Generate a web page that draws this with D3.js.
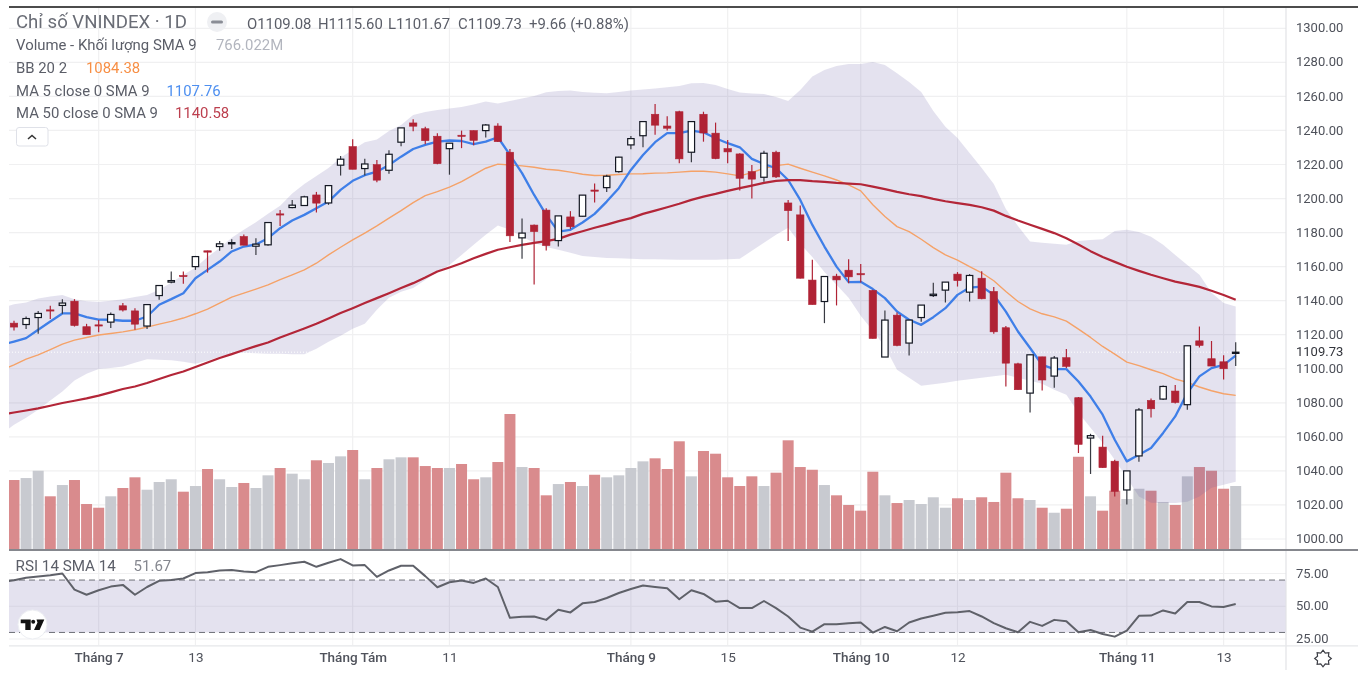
<!DOCTYPE html>
<html><head><meta charset="utf-8">
<script src="https://cdn.jsdelivr.net/npm/d3@7"></script>
<style>
html,body{margin:0;padding:0;background:#fff;overflow:hidden}
svg{display:block;filter:blur(0.35px)}
text{font-family:Roboto,sans-serif}
</style></head><body><svg id="c" width="1358" height="673"></svg>
<script>
const opens=[1126.8,1126,1130.1,1134.6,1137.2,1139.7,1124.7,1125.8,1127.4,1137,1134,1125.1,1143,1150.9,1154.8,1160,1169.3,1171.8,1173.4,1177.7,1172,1172.8,1191,1194.7,1195.9,1202.1,1197.4,1219.6,1230.5,1217.6,1219.9,1216.6,1233.1,1244.4,1241,1236.6,1229.3,1237.2,1239.9,1239.9,1242.6,1227.2,1176.9,1184.4,1193.2,1175.3,1189.2,1189.6,1205,1206.4,1215.8,1231.5,1236.9,1249.5,1242.6,1251,1227.2,1249.5,1238.4,1229.3,1226.2,1215.8,1212.5,1227.2,1197.4,1190.4,1152.1,1139.5,1154.4,1157.9,1155.9,1146,1106.9,1131.5,1115.1,1130.1,1143,1146.2,1155.6,1145,1153.2,1145.4,1124.1,1102.9,1085.7,1107,1095.7,1106.5,1083,1059.3,1054,1045.7,1028.8,1048.8,1081.4,1082.2,1086.9,1078.9,1116.4,1105.9,1104.1,1109.08];
const closes=[1124.5,1129.5,1132.5,1134.2,1138.6,1125.4,1120,1125.4,1131.9,1134.5,1126.2,1137.7,1148.9,1151.8,1154.2,1165.9,1168.5,1173.4,1174.1,1172.6,1173.2,1185.9,1190.6,1196.1,1201,1197.3,1207.6,1223.1,1217.2,1220.3,1210.8,1226,1241.5,1242.5,1234,1220.5,1232.5,1236.8,1234.2,1243.2,1233.4,1178.1,1179.7,1180.6,1172.4,1189.8,1183.4,1202,1204.7,1213.1,1224.3,1235.2,1245.2,1243.1,1241.3,1223.3,1245.2,1238.5,1223.4,1227.4,1211.9,1211.4,1226.6,1212.7,1192.9,1153.2,1137.7,1154.2,1152.2,1154,1155.2,1117.8,1128.6,1113.7,1128.6,1137.4,1143.8,1150.9,1151.8,1154.8,1141.1,1121.7,1103.3,1087.7,1108.2,1093.4,1106.3,1101.4,1055.6,1060.7,1041.9,1028,1040,1075.8,1076.5,1089.6,1080.2,1113.5,1113.7,1101.6,1100,1109.73];
const highs=[1128.2,1130.7,1134,1137,1140.9,1140.9,1126.4,1128.6,1133,1138.6,1135.6,1138,1148.9,1157.1,1157.1,1166.3,1169.4,1175.1,1176.1,1178.8,1176.7,1185.9,1193.3,1199.2,1201.6,1203.9,1207.8,1225,1234.8,1223.3,1222.7,1228.4,1241.5,1246.6,1242.2,1238.4,1232.5,1239.9,1239.9,1243.8,1244.2,1229.1,1188.2,1184.7,1194.3,1189.8,1192.6,1202,1208.8,1213.9,1224.6,1236.8,1245.2,1255.6,1248.3,1251.6,1245.2,1251,1244.6,1234.4,1226.6,1219.7,1228.1,1228.1,1199.2,1195.9,1164,1154.2,1155.8,1164.4,1161.6,1146.4,1134.2,1133,1128.8,1137.4,1150.5,1150.9,1156.8,1155.6,1157.3,1148,1125.1,1103.5,1108.2,1107,1107.5,1111.6,1083.4,1061.8,1060.7,1046.6,1040,1076.9,1082.6,1090.2,1090.4,1113.5,1124.8,1116.3,1108,1115.6];
const lows=[1122.5,1123.3,1120.5,1129.2,1132.3,1124.8,1120,1121.5,1123.9,1133.6,1122.9,1123.3,1140.5,1150.3,1149.9,1158.1,1156.5,1169.3,1170.4,1172.6,1166.9,1172.2,1183.9,1194.3,1195.7,1191.8,1196.3,1213.5,1217.2,1213.5,1209.6,1214.6,1230.7,1239.5,1231.9,1220.2,1214,1229.6,1231.3,1235.8,1233.2,1174.5,1164.7,1149.5,1169.4,1171.8,1182,1189.4,1197.6,1203.9,1215.2,1229,1230.1,1237.4,1239.9,1220.7,1221.3,1233.4,1223.1,1220.7,1204.7,1200,1209.9,1212.1,1175.1,1153,1137.7,1126.8,1137.2,1150.3,1150.7,1117.8,1106.9,1113.3,1107.8,1127.6,1142.1,1138.9,1148.3,1139.5,1140.9,1120.5,1089.6,1087.7,1074.3,1087.3,1088.8,1100.4,1050.5,1038.2,1041.9,1025,1020.2,1045.4,1071.4,1081.6,1079.6,1075.9,1112.5,1101.6,1093.7,1101.67];
const volumes=[839,863,952,641,778,839,547,502,641,742,872,721,815,848,697,766,973,848,754,803,742,896,985,916,848,1079,1046,1127,1204,848,985,1091,1115,1115,1009,985,985,1034,848,872,1058,1642,997,985,653,790,815,766,903,872,896,985,1066,1103,973,1310,884,1192,1159,872,766,884,766,928,1322,997,964,778,653,535,466,940,653,559,596,547,629,502,617,596,629,572,928,617,596,502,441,490,1122,641,466,709,608,733,709,572,535,884,997,952,733,766.022];
// Line series: the first value belongs to the bar just left of the visible window.
const bbUpper=[1135.6,1137.9,1138.9,1141.3,1142.4,1143.4,1140.9,1139.7,1139.2,1139.9,1140.9,1142.1,1143.4,1146.4,1150.5,1155.2,1159.3,1165.7,1171,1176.9,1181.6,1186,1191,1195.7,1203,1208.6,1213.3,1218,1223.9,1228.6,1233,1234.7,1239.7,1243.2,1249.1,1250.9,1252,1252.9,1253.8,1255.3,1257,1255.8,1257.3,1258.8,1260.3,1262.4,1263.2,1263.5,1262.6,1262.2,1261.8,1262.6,1263.4,1264.1,1264.6,1265.4,1266.1,1267.7,1267.9,1266.7,1264.4,1262.3,1261.7,1261.4,1259.7,1257.3,1263.8,1271.7,1275.5,1277.9,1279,1279,1280.2,1278.4,1273.6,1268.5,1262.6,1251.4,1242.1,1235.6,1226.8,1218,1208.6,1193.9,1183.9,1174.7,1174,1173.4,1172.8,1175.1,1175.7,1176.1,1181,1181.6,1180.4,1177.5,1172.8,1166.9,1161,1155.2,1144.6,1138.7,1136.6];
const bbBasis=[1099.4,1102.3,1105.7,1108.2,1111.2,1114.5,1116.8,1118.4,1119.8,1120.7,1121.7,1122.9,1124.5,1126.2,1127.8,1129.8,1132.3,1135,1138.6,1142.1,1144.4,1146.8,1149.3,1152.4,1155.2,1158.1,1162,1166.9,1171.4,1175.7,1179.7,1183.9,1188.5,1192.9,1197.6,1201.7,1204.1,1206.7,1209.9,1213.9,1217.8,1220.2,1219.7,1219.2,1218.4,1217.2,1216.6,1215.5,1214.3,1213.5,1213.7,1214.1,1214.5,1214.6,1214.9,1215.1,1215.5,1216,1216,1215.5,1214.5,1213.3,1215.2,1217.8,1219.3,1220.2,1217.8,1215.5,1213.3,1210.9,1208,1204.5,1196.3,1189.4,1183.5,1180.6,1176.1,1171.2,1166.9,1163.8,1160,1156.4,1151.7,1145.4,1139.5,1135.2,1132.3,1130.5,1128,1123.3,1118.4,1113.1,1108.6,1103.9,1101.8,1099.4,1097.1,1094,1092,1089.3,1087.1,1085.3,1084.38];
const bbLower=[1061.8,1067.1,1071.2,1075.9,1081.4,1086.7,1093.1,1097.1,1099.8,1100.4,1101.4,1103.5,1105.6,1105.3,1105,1104.1,1102.9,1104.7,1107,1108.8,1109.4,1109.1,1108.8,1108.8,1108.5,1108.5,1111.7,1115.8,1119.4,1123.5,1126.4,1134.6,1141.7,1145.2,1147.5,1152.2,1156.9,1161,1166.9,1172.8,1178.7,1184.2,1181.6,1177.5,1174,1171.6,1169.9,1168.1,1166.3,1165.7,1165.1,1164.9,1164.6,1164.4,1164.3,1164.2,1164,1164,1164,1164,1164.3,1164.6,1169.3,1174,1178.7,1182.8,1173.4,1165.7,1156.9,1149.3,1141.7,1131.1,1122.3,1112.9,1099.4,1094.7,1090,1090.9,1091.8,1093,1093.8,1094.7,1095.6,1096.5,1094.7,1093,1091.2,1087.7,1084.7,1074.2,1065.4,1056.6,1046.6,1036,1024.9,1021.3,1021.1,1021.1,1021.9,1024.9,1030.1,1031.9,1033.7];
const ma5=[1114.1,1116,1118,1122.9,1127.8,1132.5,1132.5,1130.3,1128.9,1128.8,1128.2,1128.2,1130.7,1137.6,1140.9,1144.4,1153.2,1158.1,1163,1168.9,1171.8,1173,1176.7,1182.6,1187.1,1190.4,1194.3,1198.2,1205.1,1210.4,1213.7,1215.8,1219.7,1224.6,1229.1,1231.5,1233.4,1234.1,1233.8,1231.9,1233.4,1236,1225.6,1214.9,1202.1,1190.4,1180.6,1181.6,1185.9,1191,1198.2,1206.1,1216.8,1225.6,1233.1,1238.4,1238.4,1239.9,1238.9,1235.4,1232.5,1230.1,1223.3,1220.3,1217.8,1210.9,1199.2,1184.5,1171.8,1160,1150.9,1151.1,1146.8,1141.5,1133.6,1128.8,1125.8,1130.3,1135.6,1143.4,1147.7,1148.3,1143.4,1133.6,1121.9,1112.2,1102.3,1099.8,1099.8,1092.5,1083.7,1073,1058.3,1045.6,1049.5,1053.5,1062.3,1072,1085.7,1095.5,1100.4,1102.3,1107.76];
const ma50=[1073,1074.3,1075.5,1076.7,1078.3,1079.9,1081.2,1082.6,1084.2,1086.1,1088.1,1089.6,1091.6,1094,1096.3,1098.4,1101,1103.7,1106.3,1108.6,1111,1113.3,1115.4,1118.4,1121,1123.7,1126.4,1129.5,1132.7,1135.6,1138.6,1141.5,1144.4,1147.4,1150.3,1153.6,1157.1,1159.5,1162,1164.9,1167.5,1169.9,1171.4,1172.8,1174,1175,1176.3,1178.8,1180.8,1182.8,1184.7,1186.7,1188.5,1191,1192.9,1194.9,1196.9,1199.2,1201.1,1202.7,1204.5,1206.1,1207.6,1209.2,1210.4,1210.8,1210.8,1210.2,1209.8,1209.2,1208.8,1208.4,1207,1205.5,1203.9,1202.5,1201.4,1199.8,1198.4,1197.3,1196.3,1194.9,1192.9,1189.8,1187.1,1184.6,1182.2,1179.7,1176.7,1173,1169.1,1165.7,1162.8,1159.9,1157.5,1155.2,1153.2,1151.2,1149.7,1148.1,1145.8,1143.3,1140.58];
const rsi=[68.5,69.9,71.7,72.7,73.7,75,62.7,58.8,62.2,65,66.3,58.8,64.7,69.4,70.1,71.2,75.3,76,77.3,77.6,76.5,76,80.1,81.4,82.9,84,80.1,83.2,86,81.2,81.4,72.4,77.3,80.9,80.9,73,64.5,68.3,69.6,67.8,71.2,64.7,41.2,41.9,42.2,39.6,47.3,45.3,52.2,53.2,56.3,60.1,63.2,65.8,64.7,63.7,55.3,62.2,59.4,53.5,54.2,48.6,48.6,54,48.6,42.2,33.7,30.6,36.3,36.3,37.1,37.6,29.9,34.2,30.9,37.6,40.6,42.7,45,45.5,46.3,42.2,37.1,33.2,30.1,38.1,35,39.6,38.6,30.1,31.9,28.8,26.8,31.4,42.7,42.9,46.8,44.5,53.2,53.2,49.9,49.4,51.67];
const priceTicks=d3.range(1000,1301,20);
const rsiTicks=[25,50,75];
const timeTickIndex=[7,15,28,36,51,59,70,78,92,100];
const timeTickLabels=["Tháng 7","13","Tháng Tám","11","Tháng 9","15","Tháng 10","12","Tháng 11","13"];
const ohlcLabels=["O1109.08","H1115.60","L1101.67","C1109.73","+9.66 (+0.88%)"];
const ohlcX=[247,318,388,458,529];
const legendLines=[["Volume - Khối lượng SMA 9","766.022M","#b2b5be",216],["BB 20 2","1084.38","#f78f45",86],["MA 5 close 0 SMA 9","1107.76","#4d8ff0",166.5],["MA 50 close 0 SMA 9","1140.58","#bc3f4e",175]];

const svg=d3.select("#c");
const L=9,R=1286,W=1358;
const x=d3.scaleLinear().domain([0,101]).range([14,1235.7]);
const y=d3.scaleLinear().domain([1000,1300]).range([539,28.3]);
const yVol=d3.scaleLinear().domain([0,1642]).range([549,414]);
const yRsi=d3.scaleLinear().domain([25,75]).range([639,573.5]);
const defs=svg.append("defs");
defs.append("clipPath").attr("id","top").append("rect").attr("x",L).attr("y",8).attr("width",R-L).attr("height",541);
defs.append("clipPath").attr("id","bot").append("rect").attr("x",L).attr("y",551).attr("width",R-L).attr("height",95);

const GRID="#f0f0f1",RED="#b02335",UP="#131722";
const chart=svg.append("g");
// grids
const grid=chart.append("g").attr("stroke",GRID).attr("stroke-width",1.2);
priceTicks.forEach(t=>grid.append("line").attr("x1",L).attr("x2",R).attr("y1",y(t)).attr("y2",y(t)));
rsiTicks.forEach(t=>grid.append("line").attr("x1",L).attr("x2",R).attr("y1",yRsi(t)).attr("y2",yRsi(t)));
timeTickIndex.forEach(i=>grid.append("line").attr("x1",x(i)).attr("x2",x(i)).attr("y1",8).attr("y2",549));
timeTickIndex.forEach(i=>grid.append("line").attr("x1",x(i)).attr("x2",x(i)).attr("y1",551).attr("y2",645));

const pricePane=chart.append("g").attr("clip-path","url(#top)");
// volume
const barW=x(1)-x(0)-1.1;
pricePane.append("g").selectAll("rect").data(volumes).join("rect")
 .attr("x",(d,i)=>x(i)-barW/2).attr("width",barW)
 .attr("y",d=>yVol(d)).attr("height",d=>549-yVol(d))
 .attr("fill",(d,i)=>closes[i]<opens[i]?"#d98b8d":"#c8cad0");
// Bollinger band
const shifted=i=>x(i-1);
const bandArea=d3.area().x((d,i)=>shifted(i)).y0((d,i)=>y(bbLower[i])).y1(d=>y(d));
pricePane.append("path").datum(bbUpper).attr("d",bandArea).attr("fill","rgb(103,97,168)").attr("fill-opacity",0.18);
// last price dotted line
pricePane.append("line").attr("x1",L).attr("x2",R).attr("y1",y(1109.73)).attr("y2",y(1109.73))
 .attr("stroke","#fff").attr("stroke-dasharray","1,2").attr("stroke-width",1);
const lineGen=d3.line().x((d,i)=>shifted(i)).y(d=>y(d));
[[bbBasis,"#f5a268",1.4],[ma5,"#3f7fe8",2.3],[ma50,"#b32638",2.2]].forEach(([s,c,w])=>
 pricePane.append("path").datum(s).attr("d",lineGen).attr("fill","none").attr("stroke",c).attr("stroke-width",w).attr("stroke-linejoin","round"));
// candles
const bodyW=7.4;
const cd=pricePane.append("g").selectAll("g").data(opens).join("g");
cd.append("line").attr("x1",(d,i)=>x(i)).attr("x2",(d,i)=>x(i))
 .attr("y1",(d,i)=>y(highs[i])).attr("y2",(d,i)=>y(lows[i]))
 .attr("stroke",(d,i)=>closes[i]<opens[i]?RED:"#383a42").attr("stroke-width",1.2);
cd.append("rect")
 .attr("x",(d,i)=>x(i)-bodyW/2+(closes[i]<opens[i]?0:0.5)).attr("width",(d,i)=>closes[i]<opens[i]?bodyW:bodyW-1)
 .attr("y",(d,i)=>Math.min(y(opens[i]),y(closes[i]))).attr("height",(d,i)=>Math.max(1.2,Math.abs(y(opens[i])-y(closes[i]))))
 .attr("fill",(d,i)=>closes[i]<opens[i]?RED:"#fff")
 .attr("stroke",(d,i)=>closes[i]<opens[i]?RED:UP).attr("stroke-width",(d,i)=>closes[i]<opens[i]?0.6:1.2);

// RSI pane
const rsiPane=chart.append("g").attr("clip-path","url(#bot)");
rsiPane.append("rect").attr("x",L).attr("width",R-L).attr("y",yRsi(70)).attr("height",yRsi(30)-yRsi(70)).attr("fill","rgb(103,97,168)").attr("fill-opacity",0.18);
[70,30].forEach(t=>rsiPane.append("line").attr("x1",L).attr("x2",R).attr("y1",yRsi(t)).attr("y2",yRsi(t)).attr("stroke","#6d6f78").attr("stroke-dasharray","6,4").attr("stroke-width",1));
const rsiLine=d3.line().x((d,i)=>shifted(i)).y(d=>yRsi(d));
rsiPane.append("path").datum(rsi).attr("d",rsiLine).attr("fill","none").attr("stroke","#5f6169").attr("stroke-width",2).attr("stroke-linejoin","round");

// frame lines
const frameG=svg.append("g");
frameG.append("line").attr("x1",L).attr("x2",W).attr("y1",7).attr("y2",7).attr("stroke","#111").attr("stroke-width",1.3);
frameG.append("line").attr("x1",R).attr("x2",R).attr("y1",8).attr("y2",670).attr("stroke","#e2e3e6").attr("stroke-width",1.2);
frameG.append("line").attr("x1",L).attr("x2",W).attr("y1",645.8).attr("y2",645.8).attr("stroke","#e6e7ea").attr("stroke-width",1.2);
frameG.append("line").attr("x1",L).attr("x2",W).attr("y1",550).attr("y2",550).attr("stroke","#85878d").attr("stroke-width",1.8);

// axes
const TXT="#4f525b";
const axP=svg.append("g").attr("transform",`translate(${R},0)`).call(d3.axisRight(y).tickValues(priceTicks).tickSize(0).tickPadding(10).tickFormat(d3.format(".2f")));
axP.select(".domain").remove();
axP.selectAll("text").attr("fill",TXT).attr("font-size",13).attr("font-family","Roboto").attr("dy","0.28em");
const axR=svg.append("g").attr("transform",`translate(${R},0)`).call(d3.axisRight(yRsi).tickValues(rsiTicks).tickSize(0).tickPadding(10).tickFormat(d3.format(".2f")));
axR.select(".domain").remove();
axR.selectAll("text").attr("fill",TXT).attr("font-size",13).attr("font-family","Roboto").attr("dy","0.28em");
const tickLabel=new Map(timeTickIndex.map((v,i)=>[v,timeTickLabels[i]]));
const axT=svg.append("g").attr("transform","translate(0,646)").call(d3.axisBottom(x).tickValues(timeTickIndex).tickSize(0).tickPadding(6).tickFormat(d=>tickLabel.get(d)));
axT.select(".domain").remove();
axT.selectAll("text").attr("fill",TXT).attr("font-size",13.5).attr("font-family","Roboto")
 .attr("font-weight",d=>/Tháng/.test(tickLabel.get(d))?500:400);

// last price tag
svg.append("rect").attr("x",R+1).attr("y",345).attr("width",W-R-1).attr("height",17).attr("fill","#fff");
svg.append("text").attr("x",1296).attr("y",y(1109.73)).attr("dy","0.3em").attr("font-size",13).attr("fill","#33353c").text("1109.73");

// legend
const LEG="#5b5e68",LF=14.9;
svg.append("text").attr("x",16).attr("y",28).attr("font-size",18.6).attr("fill","#6a6d76").text("Chỉ số VNINDEX · 1D");
svg.append("circle").attr("cx",217).attr("cy",22).attr("r",10).attr("fill","#eff0f3");
svg.append("rect").attr("x",211).attr("y",20.5).attr("width",12).attr("height",3).attr("rx",1.5).attr("fill","#8a8d96");
ohlcLabels.forEach((t,i)=>svg.append("text").attr("x",ohlcX[i]).attr("y",28.5).attr("font-size",LF).attr("fill",LEG).text(t));
legendLines.forEach(([label,val,col,vx],i)=>{
 const ty=50.2+i*22.7;
 svg.append("text").attr("x",16).attr("y",ty).attr("font-size",LF).attr("fill",LEG).text(label);
 svg.append("text").attr("x",vx).attr("y",ty).attr("font-size",LF).attr("fill",col).text(val);
});
svg.append("rect").attr("x",16.5).attr("y",127.5).attr("width",31.5).attr("height",18.5).attr("rx",2.5).attr("fill","#fff").attr("stroke","#dfe1e8");
svg.append("path").attr("d","M28 139 L32 135.5 L36 139").attr("fill","none").attr("stroke","#333").attr("stroke-width",1.5);
svg.append("text").attr("x",15.6).attr("y",570.5).attr("font-size",15.2).attr("fill",LEG).text("RSI 14 SMA 14");
svg.append("text").attr("x",133.6).attr("y",570.5).attr("font-size",15).attr("fill","#85878f").text("51.67");

// logo
svg.append("circle").attr("cx",32.5).attr("cy",624.5).attr("r",14.5).attr("fill","#fff").attr("stroke","#eceef2");
svg.append("path").attr("d","M20.7 619.5 H30.7 V630 H25.3 V623.2 H20.7 Z M36.5 619.5 H44.3 L39.6 630 H34 L37.5 622.5 Z").attr("fill","#111");
svg.append("circle").attr("cx",33.2).attr("cy",621.8).attr("r",2).attr("fill","#111");

// settings icon
const pts=d3.range(16).map(k=>{const r=k%2?5.9:8.3,a=k*Math.PI/8;return [1323+r*Math.sin(a),658.5-r*Math.cos(a)];});
svg.append("path").attr("d",d3.line().curve(d3.curveLinearClosed)(pts)).attr("fill","none").attr("stroke","#3c3e45").attr("stroke-width",1.2);
</script></body></html>
